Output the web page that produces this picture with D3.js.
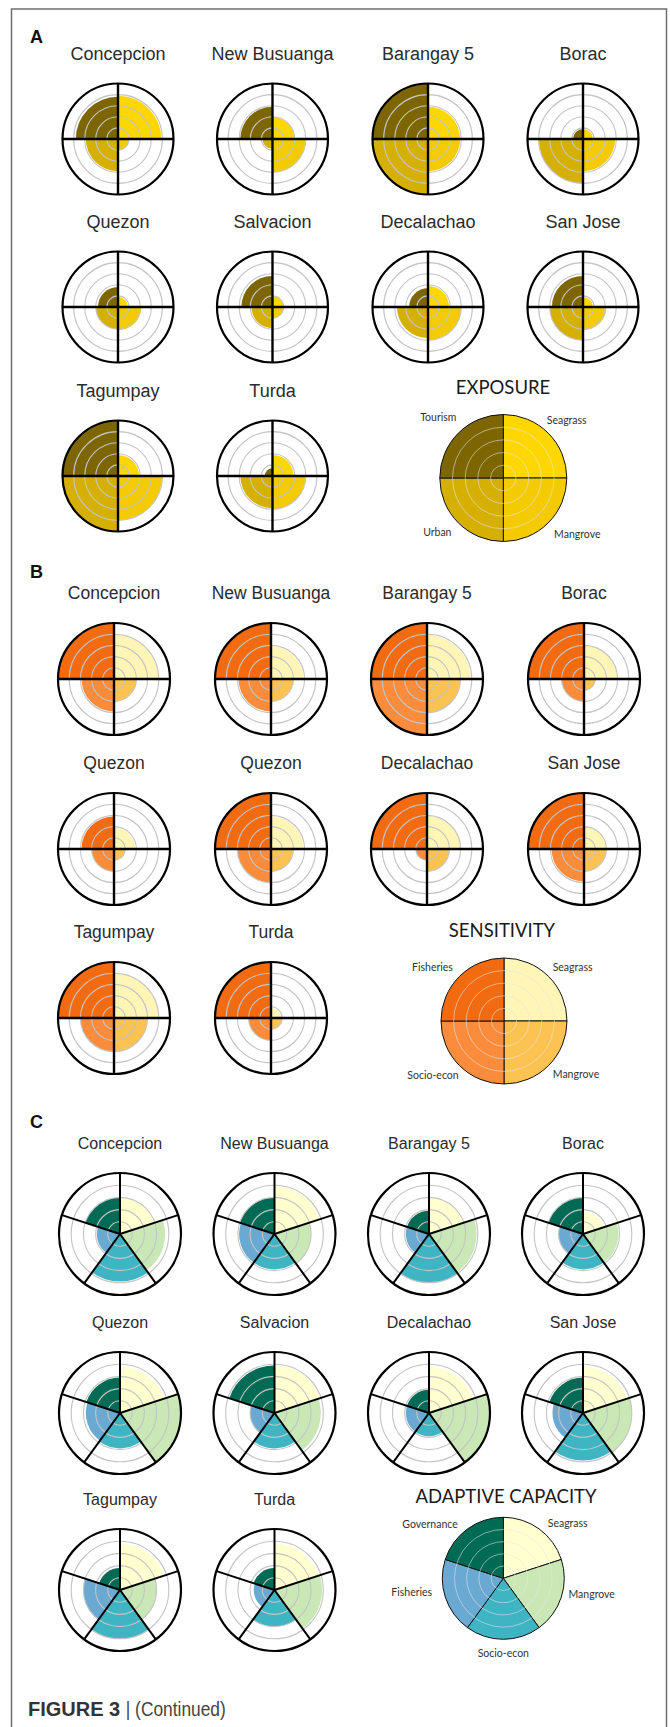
<!DOCTYPE html>
<html>
<head>
<meta charset="utf-8">
<script src="https://cdn.jsdelivr.net/npm/d3@7"></script>
<style>
  body { margin: 0; background: #fff; }
  svg { display: block; }
</style>
</head>
<body>
<script>
// sites, row by row (row 3 has only two sites, legend fills the rest)
const sitesA = ["Concepcion", "New Busuanga", "Barangay 5", "Borac", "Quezon", "Salvacion", "Decalachao", "San Jose", "Tagumpay", "Turda"];
const sitesB = ["Concepcion", "New Busuanga", "Barangay 5", "Borac", "Quezon", "Quezon", "Decalachao", "San Jose", "Tagumpay", "Turda"];
const sitesC = ["Concepcion", "New Busuanga", "Barangay 5", "Borac", "Quezon", "Salvacion", "Decalachao", "San Jose", "Tagumpay", "Turda"];

// categories, clockwise from 12 o'clock
const exposureCats = ["Seagrass", "Mangrove", "Urban", "Tourism"];
const sensitivityCats = ["Seagrass", "Mangrove", "Socio-econ", "Fisheries"];
const adaptiveCats = ["Seagrass", "Mangrove", "Socio-econ", "Fisheries", "Governance"];

const exposureColors = ["#ffd700", "#f3cb00", "#d6b000", "#7d6600"];
const sensitivityColors = ["#fff5b6", "#fdc352", "#fa8c3b", "#f26b10"];
const adaptiveColors = ["#ffffd0", "#c9e8b5", "#3fb5c3", "#6aa9d2", "#006b55"];

// scores 0-5, one row per site, same order as categories
const exposureValues = [
  [3.9, 1.0, 2.9, 3.8],
  [2.0, 3.0, 0.9, 2.9],
  [2.9, 2.9, 5.0, 5.0],
  [0.9, 2.9, 4.0, 0.9],
  [0.9, 2.1, 2.0, 1.8],
  [1.0, 1.0, 1.9, 2.8],
  [1.9, 3.0, 2.8, 1.7],
  [0.9, 2.1, 3.0, 2.8],
  [1.9, 4.0, 5.0, 5.0],
  [1.9, 3.0, 2.9, 0.7]
];
const sensitivityValues = [
  [4.0, 2.0, 2.9, 5.0],
  [2.9, 2.0, 2.9, 5.0],
  [3.9, 3.0, 5.0, 5.0],
  [3.0, 1.0, 2.0, 5.0],
  [1.9, 1.0, 2.0, 2.9],
  [2.9, 2.0, 3.0, 5.0],
  [3.0, 2.0, 1.0, 5.0],
  [2.0, 2.0, 2.9, 5.0],
  [4.0, 3.0, 3.0, 5.0],
  [0.9, 1.0, 2.0, 5.0]
];
const adaptiveValues = [
  [3.0, 3.7, 3.9, 1.9, 3.0],
  [3.9, 3.0, 2.9, 2.9, 3.0],
  [3.0, 3.9, 4.0, 1.9, 1.9],
  [1.8, 2.9, 2.9, 2.0, 3.0],
  [3.8, 5.0, 2.9, 2.8, 2.9],
  [3.9, 3.8, 2.9, 2.0, 3.9],
  [3.8, 5.0, 1.9, 1.9, 1.9],
  [3.8, 4.0, 3.9, 2.5, 2.9],
  [3.8, 3.0, 4.0, 3.0, 1.8],
  [3.8, 3.9, 3.0, 1.7, 1.8]
];
const ringTicks = [1, 2, 3, 4];
const maxScore = 5;

const W = 670, H = 1727;
const svg = d3.select("body").append("svg").attr("width", W).attr("height", H);

svg.append("rect")
  .attr("x", 11.5).attr("y", 9).attr("width", 655).attr("height", H + 20)
  .attr("fill", "none").attr("stroke", "#6e6e6e").attr("stroke-width", 1.5);

const panels = [
  { letter: "A", letterY: 43, sites: sitesA, cats: exposureCats, colors: exposureColors, values: exposureValues,
    colX: [118, 272.5, 428, 583], rowY: [139, 307, 476], R: 55.5, titleDy: -79, titleSize: 18, cross: true,
    legend: { title: "EXPOSURE", tx: 503, ty: 394, cx: 503.3, cy: 478, R: 63.5,
      labels: [[63.4, -58], [74, 56], [-66, 54.7], [-65, -60.3]] } },
  { letter: "B", letterY: 578, sites: sitesB, cats: sensitivityCats, colors: sensitivityColors, values: sensitivityValues,
    colX: [114, 271, 427, 584], rowY: [679, 849, 1018], R: 56, titleDy: -80, titleSize: 17.5, cross: true,
    legend: { title: "SENSITIVITY", tx: 502, ty: 937, cx: 504, cy: 1021, R: 63,
      labels: [[68.6, -53.3], [72, 53], [-71, 54], [-71.5, -53.3]] } },
  { letter: "C", letterY: 1128, sites: sitesC, cats: adaptiveCats, colors: adaptiveColors, values: adaptiveValues,
    colX: [120, 274.5, 429, 583], rowY: [1234, 1413, 1590], R: 61, titleDy: -85, titleSize: 16, cross: false,
    legend: { title: "ADAPTIVE CAPACITY", tx: 506, ty: 1503, cx: 503.3, cy: 1578.3, R: 61,
      labels: [[64.4, -55], [88.4, 16], [0, 75], [-91.6, 14.4], [-73.3, -54]] } }
];

panels.forEach(p => {
  svg.append("text")
    .attr("x", 30).attr("y", p.letterY)
    .attr("font-family", "Liberation Sans, Arial, sans-serif")
    .attr("font-weight", "bold").attr("font-size", 18).attr("fill", "#111")
    .text(p.letter);

  const n = p.cats.length;
  const step = 2 * Math.PI / n;
  const r = d3.scaleLinear().domain([0, maxScore]).range([0, p.R]);

  p.values.forEach((vals, i) => {
    const cx = p.colX[i % 4], cy = p.rowY[Math.floor(i / 4)];
    const g = svg.append("g").attr("transform", `translate(${cx},${cy})`);

    g.append("text")
      .attr("y", p.titleDy).attr("text-anchor", "middle")
      .attr("font-family", "Liberation Sans, Arial, sans-serif")
      .attr("font-size", p.titleSize).attr("fill", "#2b2b2b")
      .text(p.sites[i]);

    g.selectAll("path.wedge")
      .data(vals)
      .join("path")
      .attr("class", "wedge")
      .attr("fill", (d, j) => p.colors[j])
      .attr("d", (d, j) => d3.arc()
        .innerRadius(0).outerRadius(r(d))
        .startAngle(j * step).endAngle((j + 1) * step)());

    g.selectAll("circle.ring")
      .data(ringTicks)
      .join("circle")
      .attr("class", "ring")
      .attr("r", d => r(d))
      .attr("fill", "none").attr("stroke", "#c4c4c4").attr("stroke-width", 1.1);

    const angles = p.cross ? [0, 1, 2, 3].map(k => k * Math.PI / 2) : d3.range(n).map(k => k * step);
    g.selectAll("line.spoke")
      .data(angles)
      .join("line")
      .attr("class", "spoke")
      .attr("x1", 0).attr("y1", 0)
      .attr("x2", a => r(maxScore) * Math.sin(a))
      .attr("y2", a => -r(maxScore) * Math.cos(a))
      .attr("stroke", "#000").attr("stroke-width", p.cross ? 2.4 : 2)
      .attr("stroke-linecap", "butt");

    g.append("circle")
      .attr("r", r(maxScore))
      .attr("fill", "none").attr("stroke", "#000").attr("stroke-width", 2.2);
  });

  // legend pie: every category at full score
  const L = p.legend;
  const lr = d3.scaleLinear().domain([0, maxScore]).range([0, L.R]);
  svg.append("text")
    .attr("x", L.tx).attr("y", L.ty).attr("text-anchor", "middle")
    .attr("font-family", "Lato, Open Sans, sans-serif")
    .attr("font-size", 18.5).attr("fill", "#1a1a1a")
    .text(L.title);

  const lg = svg.append("g").attr("transform", `translate(${L.cx},${L.cy})`);
  const pie = d3.pie().sort(null).value(() => 1);
  lg.selectAll("path")
    .data(pie(p.cats))
    .join("path")
    .attr("fill", (d, j) => p.colors[j])
    .attr("stroke", "#111").attr("stroke-width", 1)
    .attr("d", d3.arc().innerRadius(0).outerRadius(lr(maxScore)));

  lg.selectAll("circle.ring")
    .data(ringTicks)
    .join("circle")
    .attr("class", "ring")
    .attr("r", d => lr(d))
    .attr("fill", "none").attr("stroke", "#e6e6e6").attr("stroke-opacity", 0.55).attr("stroke-width", 1);

  lg.selectAll("text")
    .data(p.cats)
    .join("text")
    .attr("x", (d, j) => L.labels[j][0])
    .attr("y", (d, j) => L.labels[j][1] + 3.5)
    .attr("text-anchor", "middle")
    .attr("font-family", "Lato, Open Sans, sans-serif")
    .attr("font-size", 10.5).attr("fill", "#333")
    .text(d => d);
});

const cap = svg.append("text")
  .attr("x", 28).attr("y", 1716)
  .attr("font-family", "Liberation Sans, Arial, sans-serif")
  .attr("font-size", 20).attr("fill", "#333");
cap.append("tspan").attr("font-weight", "bold").text("FIGURE 3 ");
cap.append("tspan").attr("fill", "#444").attr("textLength", 100).attr("lengthAdjust", "spacingAndGlyphs").text("| (Continued)");
</script>
</body>
</html>
